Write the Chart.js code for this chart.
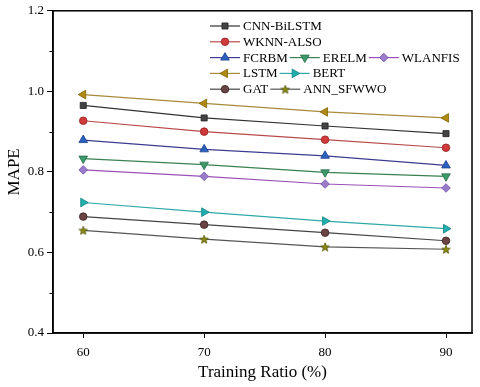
<!DOCTYPE html>
<html>
<head>
<meta charset="utf-8">
<script src="https://cdn.jsdelivr.net/npm/chart.js@4.4.1/dist/chart.umd.min.js"></script>
<style>
  html, body { margin: 0; padding: 0; background: #fff; }
  #wrap { width: 480px; height: 387px; }
</style>
</head>
<body>
<div id="wrap"><canvas id="mapeChart" width="480" height="387"></canvas></div>
<script>
// ── Data ──
const ratios = [60, 70, 80, 90];
const cnnBiLstm = [0.965, 0.934, 0.914, 0.895];
const wknnAlso = [0.927, 0.900, 0.880, 0.860];
const fcrbm = [0.879, 0.856, 0.840, 0.816];
const erelm = [0.833, 0.818, 0.799, 0.789];
const wlanfis = [0.805, 0.789, 0.770, 0.760];
const lstm = [0.992, 0.970, 0.949, 0.934];
const bert = [0.724, 0.700, 0.678, 0.659];
const gat = [0.689, 0.669, 0.649, 0.629];
const annSfwwo = [0.655, 0.633, 0.614, 0.608];
const yTicks = [0.4, 0.6, 0.8, 1.0, 1.2];

const serif = "'Liberation Serif', 'DejaVu Serif', serif";

// ── Filled star marker ──
function makeStar(size, fill, stroke) {
  const c = document.createElement('canvas');
  c.width = size; c.height = size;
  const g = c.getContext('2d');
  const cx = size / 2, cy = size / 2 + 0.5, R = size / 2 - 0.5, r = R * 0.42;
  g.beginPath();
  for (let i = 0; i < 10; i++) {
    const a = -Math.PI / 2 + i * Math.PI / 5;
    const rad = i % 2 ? r : R;
    g.lineTo(cx + rad * Math.cos(a), cy + rad * Math.sin(a));
  }
  g.closePath();
  g.fillStyle = fill; g.fill();
  g.strokeStyle = stroke; g.lineWidth = 0.8; g.stroke();
  return c;
}
const starImg = makeStar(10, '#8a8a10', '#55550a');

// ── Series styles ──
const series = [
  { label: 'CNN-BiLSTM', data: cnnBiLstm, line: '#333333', fill: '#444444', edge: '#222222', style: 'rect', rot: 0, r: 4.3 },
  { label: 'WKNN-ALSO', data: wknnAlso, line: '#b84a4a', fill: '#d03a3a', edge: '#902020', style: 'circle', rot: 0, r: 3.8 },
  { label: 'FCRBM', data: fcrbm, line: '#3c3c90', fill: '#2a62c0', edge: '#1c3c8a', style: 'triangle', rot: 0, r: 5 },
  { label: 'ERELM', data: erelm, line: '#3a8050', fill: '#3a9a6a', edge: '#2a6a48', style: 'triangle', rot: 180, r: 5 },
  { label: 'WLANFIS', data: wlanfis, line: '#9a50b8', fill: '#9a7ccc', edge: '#7050a0', style: 'rectRot', rot: 0, r: 4.3 },
  { label: 'LSTM', data: lstm, line: '#a88a3a', fill: '#b08a10', edge: '#806208', style: 'triangle', rot: 270, r: 5 },
  { label: 'BERT', data: bert, line: '#30a8a8', fill: '#20b0b0', edge: '#108080', style: 'triangle', rot: 90, r: 5 },
  { label: 'GAT', data: gat, line: '#444444', fill: '#6a4444', edge: '#3a2020', style: 'circle', rot: 0, r: 3.8 },
  { label: 'ANN_SFWWO', data: annSfwwo, line: '#555555', fill: '#8a8a10', edge: '#55550a', style: starImg, rot: 0, r: 5 },
];

// legend rows (which series share a row)
const legendRows = [[0], [1], [2, 3, 4], [5, 6], [7, 8]];

// ── Plugins ──
const framePlugin = {
  id: 'frame',
  afterDraw(chart) {
    const { ctx, chartArea: a, scales } = chart;
    ctx.save();
    ctx.strokeStyle = '#000';
    ctx.lineWidth = 1.5;
    ctx.strokeRect(a.left, a.top, a.right - a.left, a.bottom - a.top);
    // minor y ticks
    ctx.lineWidth = 1;
    for (let v = 0.5; v < 1.2; v += 0.2) {
      const y = Math.round(scales.y.getPixelForValue(v)) + 0.5;
      ctx.beginPath();
      ctx.moveTo(a.left - 3.5, y);
      ctx.lineTo(a.left, y);
      ctx.stroke();
    }
    ctx.restore();
  }
};

const legendPlugin = {
  id: 'flowLegend',
  afterDraw(chart) {
    const ctx = chart.ctx;
    ctx.save();
    ctx.font = '13px ' + serif;
    ctx.textBaseline = 'middle';
    const x0 = 210, y0 = 26, rowH = 15.8, lineLen = 30;
    legendRows.forEach((row, ri) => {
      let x = x0;
      const y = y0 + ri * rowH;
      row.forEach(si => {
        const s = series[si];
        ctx.strokeStyle = s.line;
        ctx.lineWidth = 1.2;
        ctx.beginPath();
        ctx.moveTo(x, y);
        ctx.lineTo(x + lineLen, y);
        ctx.stroke();
        ctx.fillStyle = s.fill;
        ctx.strokeStyle = s.edge;
        ctx.lineWidth = 0.8;
        Chart.helpers.drawPoint(ctx, { pointStyle: s.style, rotation: s.rot, radius: s.r, borderWidth: 0.8 }, x + lineLen / 2, y);
        ctx.fillStyle = '#000';
        const tx = x + lineLen + 3;
        ctx.fillText(s.label, tx, y + 0.5);
        x = tx + ctx.measureText(s.label).width + 2;
      });
    });
    ctx.restore();
  }
};

// ── Chart ──
new Chart(document.getElementById('mapeChart'), {
  type: 'line',
  data: {
    datasets: series.map(s => ({
      label: s.label,
      data: ratios.map((r, i) => ({ x: r, y: s.data[i] })),
      borderColor: s.line,
      borderWidth: 1.2,
      backgroundColor: s.fill,
      pointBackgroundColor: s.fill,
      pointBorderColor: s.edge,
      pointBorderWidth: 0.8,
      pointStyle: s.style,
      pointRotation: s.rot,
      pointRadius: s.r,
      tension: 0,
      fill: false,
    }))
  },
  options: {
    responsive: false,
    animation: false,
    devicePixelRatio: 1,
    layout: { padding: { top: 10, right: 8, left: 0, bottom: 0 } },
    plugins: {
      legend: { display: false },
      tooltip: { enabled: false },
    },
    scales: {
      x: {
        type: 'linear',
        min: 57.5,
        max: 92.15,
        afterBuildTicks: (scale) => { scale.ticks = ratios.map(v => ({ value: v })); },
        afterFit: (scale) => { scale.height = 54; },
        grid: { drawOnChartArea: false, tickLength: 5, color: '#000', tickColor: '#000' },
        border: { color: '#000', width: 1.5 },
        ticks: { color: '#000', font: { family: serif, size: 13 }, padding: 7, maxRotation: 0 },
        title: { display: true, text: 'Training Ratio (%)', color: '#000', font: { family: serif, size: 17 }, padding: { top: 4 } },
      },
      y: {
        min: 0.4,
        max: 1.2,
        afterBuildTicks: (scale) => { scale.ticks = yTicks.map(v => ({ value: v })); },
        afterFit: (scale) => { scale.width = 53; },
        grid: { drawOnChartArea: false, tickLength: 6, color: '#000', tickColor: '#000' },
        border: { color: '#000', width: 1.5 },
        ticks: { color: '#000', font: { family: serif, size: 13 }, padding: 3, callback: v => v.toFixed(1) },
        title: { display: true, text: 'MAPE', color: '#000', font: { family: serif, size: 17 }, padding: { bottom: 2 } },
      },
    },
  },
  plugins: [framePlugin, legendPlugin],
});
</script>
</body>
</html>
